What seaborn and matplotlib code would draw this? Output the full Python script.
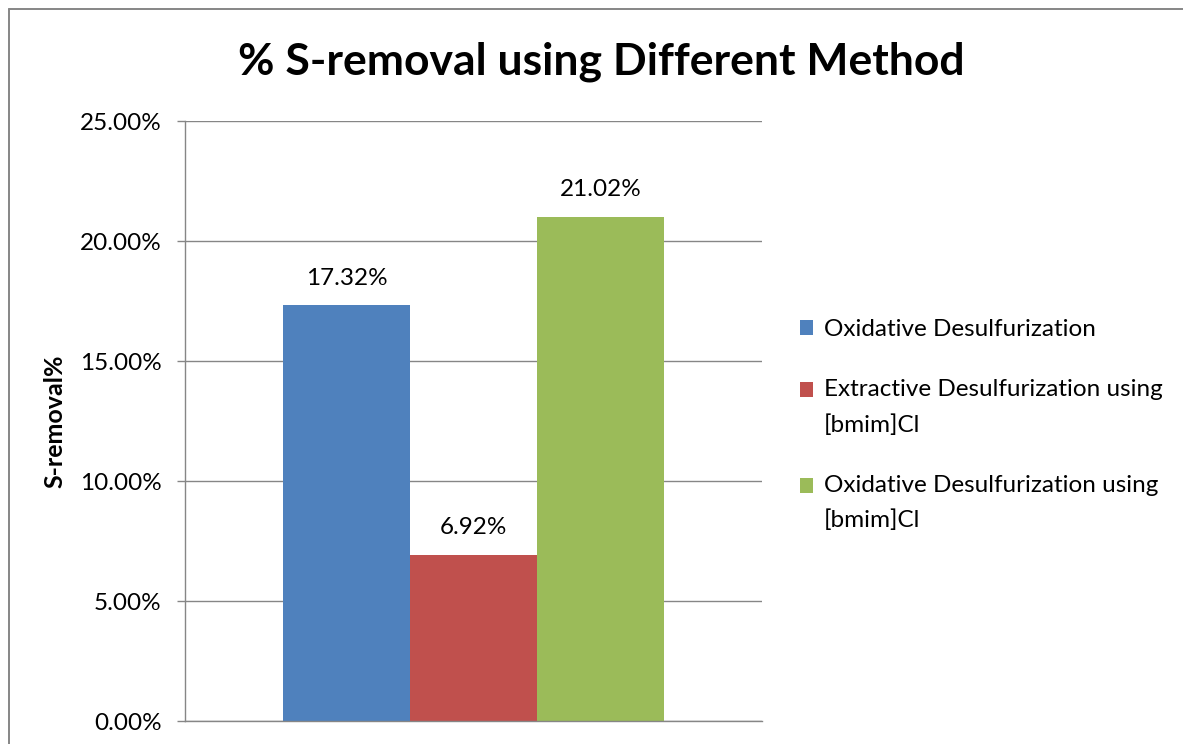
import matplotlib
matplotlib.use("Agg")
import matplotlib.pyplot as plt
from matplotlib.lines import Line2D
from matplotlib.ticker import PercentFormatter, MultipleLocator
import seaborn as sns
import pandas as pd

# S-removal achieved by each desulfurization method (fraction)
methods = [
    "Oxidative Desulfurization",
    "Extractive Desulfurization using\n[bmim]Cl",
    "Oxidative Desulfurization using\n[bmim]Cl",
]
removal = [0.1732, 0.0692, 0.2102]
colors = ["#4F81BD", "#C0504D", "#9BBB59"]

df = pd.DataFrame({"group": [""] * len(methods), "method": methods, "removal": removal})

sns.set_theme(style="white")
plt.rcParams["font.family"] = ["Lato", "DejaVu Sans"]
plt.rcParams["text.color"] = "black"

fig = plt.figure(figsize=(11.83, 7.44), dpi=100)
ax = fig.add_axes([185 / 1183, 1 - 721 / 744, 577 / 1183, 600 / 744])

sns.barplot(data=df, x="group", y="removal", hue="method", palette=colors,
            width=0.66, saturation=1, linewidth=0, ax=ax, legend=True)

for c in ax.containers:
    ax.bar_label(c, labels=[f"{v * 100:.2f}%" for v in c.datavalues],
                 padding=12, fontsize=17.5, color="black")

ax.set_ylim(0, 0.25)
ax.set_xlim(-0.5, 0.5)
ax.yaxis.set_major_locator(MultipleLocator(0.05))
ax.yaxis.set_major_formatter(PercentFormatter(1.0, decimals=2))
ax.grid(axis="y", color="#868686", linewidth=1.0)
ax.set_axisbelow(True)
ax.set_xticks([])
ax.set_xlabel("")
ax.set_ylabel("S-removal%", fontsize=18, fontweight="bold", color="black")
ax.yaxis.set_label_coords(-0.205, 0.5)
ax.tick_params(axis="y", which="major", left=True, length=5.5, width=1.0,
               color="#868686", labelsize=17.5, labelcolor="black", pad=11.5)
for side in ["top", "right"]:
    ax.spines[side].set_visible(False)
for side in ["left", "bottom"]:
    ax.spines[side].set_color("#868686")
    ax.spines[side].set_linewidth(1.0)

leg = ax.legend(loc="upper left", bbox_to_anchor=(800 / 1183, 1 - 319 / 744),
                bbox_transform=fig.transFigure, frameon=False, fontsize=17.5,
                handlelength=0.55, handleheight=0.55, handletextpad=0.42,
                labelspacing=1.6, borderpad=0, borderaxespad=0)
for t in leg.get_texts():
    t.set_linespacing(1.8)
    t.set_color("black")
# keep each colour key level with the first line of its label
for h, t in zip(leg.legend_handles, leg.get_texts()):
    n_lines = t.get_text().count("\n")
    if n_lines:
        h.set_y(h.get_y() + n_lines * 12.6)

fig.suptitle("% S-removal using Different Method", x=601 / 1183, y=1 - 62 / 744,
             va="center", fontsize=32, fontweight="bold", color="black")

# chart-area frame
fig.add_artist(Line2D([8.5 / 1183, 8.5 / 1183], [0, 1 - 9 / 744],
                      transform=fig.transFigure, color="#868686", linewidth=1.4))
fig.add_artist(Line2D([8.5 / 1183, 1.01], [1 - 9 / 744, 1 - 9 / 744],
                      transform=fig.transFigure, color="#868686", linewidth=1.4))

fig.savefig("out.png", dpi=100, facecolor="white")
